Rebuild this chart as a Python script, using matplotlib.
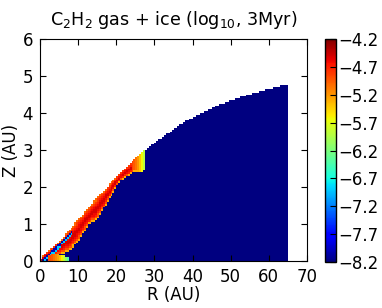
import matplotlib
matplotlib.use('Agg')
import matplotlib.pyplot as plt
import numpy as np


# Upper edge of the model domain, Z (AU) at radius R (AU)
R_NODES = [0, 1.2, 5, 8.2, 12.6, 17, 21.3, 25.7, 27.4, 30, 34, 38.5, 43,
           47, 51, 56, 60, 65]
Z_TOP = [0.0, 0.20, 0.52, 0.90, 1.44, 1.94, 2.42, 2.86, 3.00, 3.18, 3.49,
         3.81, 4.02, 4.22, 4.38, 4.54, 4.65, 4.78]

# Lower edge of the warm C2H2 layer (layer exists for R < 27.5 AU)
R_LAYER = [0, 2, 4.7, 6.5, 8.2, 10, 12.6, 14.8, 17, 19.6, 20.3, 21.3, 24.8, 27.5]
Z_LAYER_LOW = [0.0, 0.10, 0.16, 0.22, 0.30, 0.52, 0.97, 1.08, 1.47, 1.92,
               2.05, 2.19, 2.41, 2.43]

# log10 abundance across the layer, from its lower edge to its upper edge
LAYER_LEVELS = [-5.3, -4.9, -4.7, -4.6, -4.5, -4.5, -4.6, -4.7, -4.8, -5.0]
BACKGROUND = -8.2

# outer end of the layer fades to yellow/green
R_FADE = [24.0, 25.5, 26.5, 27.5]
FADE_LEVEL = [-4.8, -5.1, -5.5, -6.0]

# thin depleted streak inside the layer near the star: (R, Z centre)
R_STREAK = [1.0, 3.0, 5.5, 7.8, 8.5]
Z_STREAK = [0.04, 0.23, 0.48, 0.73, 0.80]
STREAK_LEVEL = -8.0
STREAK_RIM = -6.9

# warm midplane patch near the star
R_BLOB = [2.0, 3.0, 4.0, 5.0, 6.0, 7.3]
Z_BLOB = [0.14, 0.18, 0.20, 0.18, 0.14, 0.08]
BLOB_LEVEL = [-4.9, -4.9, -5.1, -5.3, -5.7, -6.4]

VMIN, VMAX = -8.2, -4.2
CBAR_TICKS = np.arange(VMIN, VMAX + 0.01, 0.5)


def build_field():
    r_edges = np.arange(0.0, 65.01, 0.5)
    z_edges = np.arange(0.0, 5.01, 0.05)
    rc = 0.5 * (r_edges[1:] + r_edges[:-1])
    zc = 0.5 * (z_edges[1:] + z_edges[:-1])
    rr, zz = np.meshgrid(rc, zc)

    z_top = np.interp(rr, R_NODES, Z_TOP)
    z_low = np.interp(rr, R_LAYER, Z_LAYER_LOW)
    field = np.full(rr.shape, BACKGROUND)

    in_layer = (zz >= z_low) & (rr < 27.5)
    depth = np.clip((zz - z_low) / np.maximum(z_top - z_low, 1e-6), 0, 0.999)
    idx = (depth * len(LAYER_LEVELS)).astype(int)
    levels = np.array(LAYER_LEVELS)[idx]
    fade = np.interp(rr, R_FADE, FADE_LEVEL)
    levels = np.where(rr > R_FADE[0], np.minimum(levels, fade), levels)
    field = np.where(in_layer, levels, field)

    near = (rr > R_STREAK[0]) & (rr < R_STREAK[-1])
    streak_z = np.interp(rr, R_STREAK, Z_STREAK)
    offset = zz - streak_z
    field = np.where(near & (np.abs(offset) < 0.03), STREAK_LEVEL, field)
    field = np.where(near & (offset <= -0.03) & (offset > -0.08), STREAK_RIM, field)

    blob_z = np.interp(rr, R_BLOB, Z_BLOB)
    blob = (zz < blob_z) & (rr >= R_BLOB[0]) & (rr <= R_BLOB[-1])
    field = np.where(blob, np.interp(rr, R_BLOB, BLOB_LEVEL), field)

    field = np.ma.masked_where(zz > z_top, field)
    return r_edges, z_edges, field


def main() -> None:
    plt.rcParams.update({
        'font.family': 'DejaVu Sans',
        'font.size': 12,
        'mathtext.fontset': 'dejavusans',
    })

    r_edges, z_edges, field = build_field()

    fig = plt.figure(figsize=(3.82, 3.08), dpi=100)
    ax = fig.add_axes([40 / 382, 1 - 261 / 308, 267 / 382, 222 / 308])
    cax = fig.add_axes([325 / 382, 1 - 262 / 308, 10.5 / 382, 223 / 308])

    mesh = ax.pcolormesh(r_edges, z_edges, field, cmap='jet',
                         vmin=VMIN, vmax=VMAX, shading='flat')

    ax.set_xlim(0, 70)
    ax.set_ylim(0, 6)
    ax.set_xticks(np.arange(0, 71, 10))
    ax.set_yticks(np.arange(0, 7, 1))
    ax.tick_params(direction='in', top=True, right=True, length=4,
                   labelsize=12, pad=5)
    ax.set_xlabel('R (AU)', fontsize=12, labelpad=0)
    ax.set_ylabel('Z (AU)', fontsize=12, labelpad=2)
    ax.set_title('C$_2$H$_2$ gas + ice (log$_{10}$, 3Myr)', fontsize=12.6, pad=10)

    cbar = fig.colorbar(mesh, cax=cax, ticks=CBAR_TICKS)
    cbar.ax.set_yticklabels([f'{t:.1f}'.replace('-', '\u2212') for t in CBAR_TICKS])
    cbar.ax.tick_params(direction='in', length=4, labelsize=12, pad=2)
    cbar.outline.set_linewidth(1.0)

    fig.savefig('out.png', dpi=100)


if __name__ == '__main__':
    main()
